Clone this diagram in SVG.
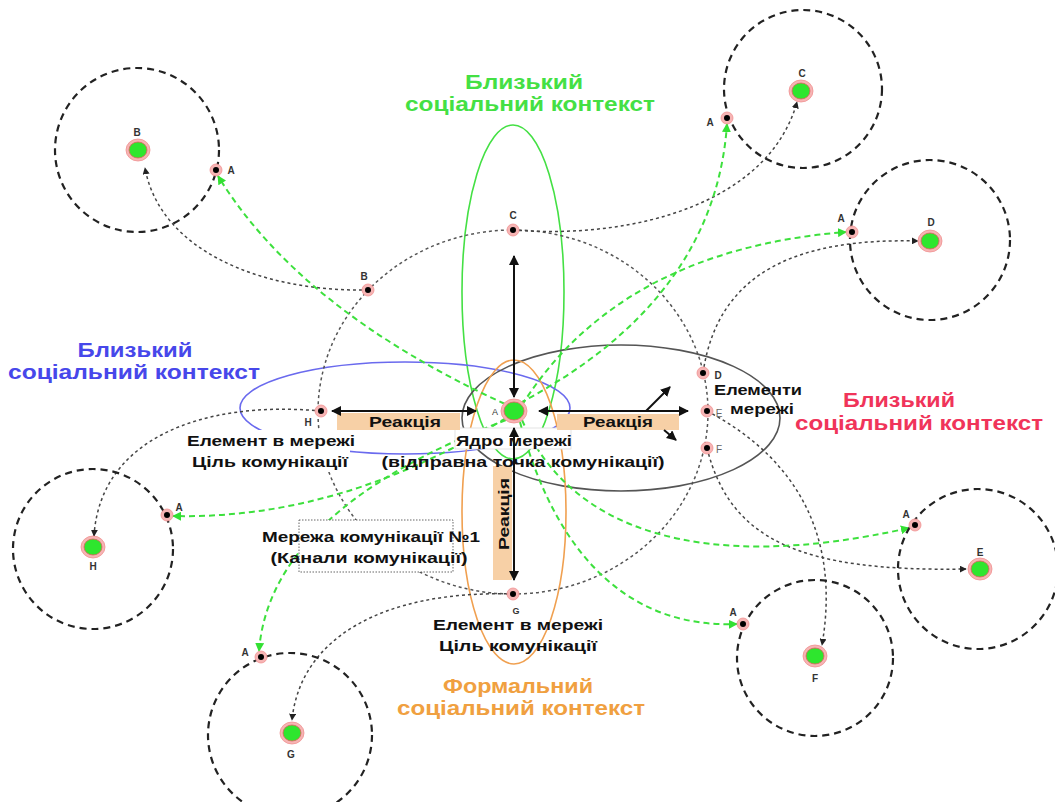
<svg xmlns="http://www.w3.org/2000/svg" width="1055" height="802" viewBox="0 0 1055 802">
<defs>
<marker id="ab" viewBox="0 0 10 10" refX="9" refY="5" markerWidth="10" markerHeight="10" markerUnits="userSpaceOnUse" orient="auto-start-reverse"><path d="M0,0 L10,5 L0,10 z" fill="#111"/></marker>
<marker id="ad" viewBox="0 0 10 10" refX="9" refY="5" markerWidth="7" markerHeight="7" markerUnits="userSpaceOnUse" orient="auto"><path d="M0,0 L10,5 L0,10 z" fill="#222"/></marker>
<marker id="ag" viewBox="0 0 10 10" refX="9" refY="5" markerWidth="9" markerHeight="9" markerUnits="userSpaceOnUse" orient="auto"><path d="M0,0 L10,5 L0,10 z" fill="#33e033"/></marker>
</defs>
<style>
.ctx{fill:none;stroke-width:1.6}
.net{fill:none;stroke:#555;stroke-width:1.5;stroke-dasharray:3 3}
.dot{fill:none;stroke:#444;stroke-width:1.5;stroke-dasharray:3 3;marker-end:url(#ad)}
.grn{fill:none;stroke:#3de03d;stroke-width:2;stroke-dasharray:6 4;marker-end:url(#ag)}
.outer{fill:none;stroke:#222;stroke-width:2.2;stroke-dasharray:7 5}
.arr{stroke:#111;stroke-width:2;fill:none}
.halo{fill:#f6b4b4;stroke:#f09090;stroke-width:0.8}
.pt{fill:#000}
.gn{fill:#2ee62e;stroke:#e06060;stroke-width:0.8}
.sm{font-family:"Liberation Sans",Arial,sans-serif;font-weight:bold;font-size:10px;fill:#333;text-anchor:middle}
.lb{font-family:"Liberation Sans",Arial,sans-serif;font-weight:bold;font-size:15.5px;fill:#111;text-anchor:middle}
.hd{font-family:"Liberation Sans",Arial,sans-serif;font-weight:bold;font-size:20px;text-anchor:middle}
.box{fill:#f7d0a6}
</style>
<rect width="1055" height="802" fill="#fff"/>

<g id="contexts">
<ellipse class="ctx" cx="513" cy="292" rx="51" ry="167" stroke="#44e044"/>
<ellipse class="ctx" cx="405" cy="408" rx="165" ry="46" stroke="#6a6aee"/>
<ellipse class="ctx" cx="621" cy="418" rx="159" ry="73" stroke="#555"/>
<ellipse class="ctx" cx="514" cy="512" rx="52" ry="152" stroke="#f0a050"/>
</g>

<g id="connectors">
<ellipse class="net" cx="513" cy="412" rx="195" ry="182"/>
<path class="dot" d="M368,290 C260,292 160,250 145,168"/>
<path class="dot" d="M513,230 C640,240 770,200 797,102"/>
<path class="dot" d="M703,373 C718,270 800,238 918,241"/>
<path class="dot" d="M707,411 C800,460 840,540 822,645"/>
<path class="dot" d="M707,448 C730,540 800,572 966,569"/>
<path class="dot" d="M321,411 C200,400 100,440 94,536"/>
<path class="dot" d="M513,594 C380,590 300,640 292,720"/>
<path class="grn" d="M505,404 Q300,310 218,176"/>
<path class="grn" d="M520,403 Q715,300 727,124"/>
<path class="grn" d="M522,405 Q620,250 846,232"/>
<path class="grn" d="M506,418 Q340,520 173,516"/>
<path class="grn" d="M506,420 Q270,510 259,651"/>
<path class="grn" d="M522,420 C570,530 700,575 909,528"/>
<path class="grn" d="M520,422 C560,570 640,628 737,624"/>
</g>

<g id="outer-circles">
<circle class="outer" cx="137" cy="150" r="82"/>
<circle class="outer" cx="803" cy="89" r="79"/>
<circle class="outer" cx="930" cy="240" r="80"/>
<circle class="outer" cx="93" cy="549" r="80"/>
<circle class="outer" cx="978" cy="569" r="80"/>
<circle class="outer" cx="815" cy="658" r="78"/>
<circle class="outer" cx="290" cy="735" r="82"/>
</g>

<g id="label-bg">
<rect x="455" y="428" width="116" height="21" fill="#fff" stroke="#ddd" stroke-width="0.8"/>
<rect x="190" y="430" width="160" height="42" fill="#fff"/>
<rect x="299" y="520" width="154" height="52" fill="#fff" stroke="#666" stroke-width="1" stroke-dasharray="1.5 1.5"/>
</g>

<g id="reaction-boxes">
<rect class="box" x="337" y="413" width="123" height="17"/>
<rect class="box" x="557" y="414" width="122" height="16"/>
<rect class="box" x="493" y="466" width="19" height="114"/>
<text class="lb" x="405" y="427" textLength="72" lengthAdjust="spacingAndGlyphs">Реакція</text>
<text class="lb" x="618" y="427" textLength="70" lengthAdjust="spacingAndGlyphs">Реакція</text>
<text class="lb" transform="translate(509,514) rotate(-90)" x="0" y="0" textLength="72" lengthAdjust="spacingAndGlyphs">Реакція</text>
</g>

<g id="arrows">
<line class="arr" x1="514" y1="256" x2="514" y2="397" marker-start="url(#ab)" marker-end="url(#ab)"/>
<line class="arr" x1="332" y1="411" x2="476" y2="411" marker-start="url(#ab)" marker-end="url(#ab)"/>
<line class="arr" x1="539" y1="411" x2="688" y2="411" marker-start="url(#ab)" marker-end="url(#ab)"/>
<line class="arr" x1="514" y1="428" x2="514" y2="580" marker-start="url(#ab)" marker-end="url(#ab)"/>
<line class="arr" x1="646" y1="411" x2="670" y2="387" marker-end="url(#ab)"/>
<line class="arr" x1="664" y1="430" x2="676" y2="440" marker-end="url(#ab)"/>
</g>

<g id="node-core">
<ellipse class="halo" cx="514" cy="411" rx="13" ry="12"/>
<ellipse class="gn" cx="514" cy="411" rx="10" ry="9"/>
<text class="sm" x="495" y="415" style="font-size:9px;font-weight:normal">A</text>
</g>

<g id="node-B"><ellipse class="halo" cx="138" cy="150" rx="12" ry="11"/><ellipse class="gn" cx="138" cy="150" rx="9" ry="8"/><text class="sm" x="137" y="136">B</text></g>
<g id="node-C"><ellipse class="halo" cx="801" cy="91" rx="12" ry="11"/><ellipse class="gn" cx="801" cy="91" rx="9" ry="8"/><text class="sm" x="802" y="77">C</text></g>
<g id="node-D"><ellipse class="halo" cx="930" cy="241" rx="12" ry="11"/><ellipse class="gn" cx="930" cy="241" rx="9" ry="8"/><text class="sm" x="931" y="226">D</text></g>
<g id="node-E"><ellipse class="halo" cx="980" cy="569" rx="12" ry="11"/><ellipse class="gn" cx="980" cy="569" rx="9" ry="8"/><text class="sm" x="980" y="556">E</text></g>
<g id="node-F"><ellipse class="halo" cx="815" cy="656" rx="12" ry="11"/><ellipse class="gn" cx="815" cy="656" rx="9" ry="8"/><text class="sm" x="815" y="682">F</text></g>
<g id="node-G"><ellipse class="halo" cx="292" cy="733" rx="12" ry="11"/><ellipse class="gn" cx="292" cy="733" rx="9" ry="8"/><text class="sm" x="291" y="758">G</text></g>
<g id="node-H"><ellipse class="halo" cx="93" cy="547" rx="12" ry="11"/><ellipse class="gn" cx="93" cy="547" rx="9" ry="8"/><text class="sm" x="93" y="570">H</text></g>

<g id="outer-points">
<circle class="halo" cx="216" cy="170" r="6"/><circle class="pt" cx="216" cy="170" r="3"/><text class="sm" x="231" y="174">A</text>
<circle class="halo" cx="727" cy="118" r="6"/><circle class="pt" cx="727" cy="118" r="3"/><text class="sm" x="710" y="126">A</text>
<circle class="halo" cx="852" cy="232" r="6"/><circle class="pt" cx="852" cy="232" r="3"/><text class="sm" x="841" y="222">A</text>
<circle class="halo" cx="167" cy="515" r="6"/><circle class="pt" cx="167" cy="515" r="3"/><text class="sm" x="179" y="511">A</text>
<circle class="halo" cx="915" cy="525" r="6"/><circle class="pt" cx="915" cy="525" r="3"/><text class="sm" x="906" y="518">A</text>
<circle class="halo" cx="743" cy="624" r="6"/><circle class="pt" cx="743" cy="624" r="3"/><text class="sm" x="733" y="616">A</text>
<circle class="halo" cx="261" cy="657" r="6"/><circle class="pt" cx="261" cy="657" r="3"/><text class="sm" x="245" y="656">A</text>
</g>

<g id="network-points">
<circle class="halo" cx="513" cy="230" r="6"/><circle class="pt" cx="513" cy="230" r="3"/><text class="sm" x="513" y="219">C</text>
<circle class="halo" cx="368" cy="290" r="6"/><circle class="pt" cx="368" cy="290" r="3"/><text class="sm" x="364" y="280">B</text>
<circle class="halo" cx="321" cy="411" r="6"/><circle class="pt" cx="321" cy="411" r="3"/><text class="sm" x="308" y="426">H</text>
<circle class="halo" cx="513" cy="594" r="6"/><circle class="pt" cx="513" cy="594" r="3"/><text class="sm" x="516" y="614" style="font-size:9px">G</text>
<circle class="halo" cx="703" cy="373" r="6"/><circle class="pt" cx="703" cy="373" r="3"/><text class="sm" x="718" y="379">D</text>
<circle class="halo" cx="707" cy="411" r="6"/><circle class="pt" cx="707" cy="411" r="3"/><text class="sm" x="719" y="417" style="font-weight:normal;fill:#666">E</text>
<circle class="halo" cx="707" cy="448" r="6"/><circle class="pt" cx="707" cy="448" r="3"/><text class="sm" x="719" y="453" style="font-weight:normal;fill:#666">F</text>
</g>

<g id="labels">
<text class="hd" fill="#44e044" x="524" y="89" textLength="118" lengthAdjust="spacingAndGlyphs">Близький</text>
<text class="hd" fill="#44e044" x="530" y="111" textLength="250" lengthAdjust="spacingAndGlyphs">соціальний контекст</text>
<text class="hd" fill="#4747ea" x="135" y="357" textLength="115" lengthAdjust="spacingAndGlyphs">Близький</text>
<text class="hd" fill="#4747ea" x="134" y="379" textLength="252" lengthAdjust="spacingAndGlyphs">соціальний контекст</text>
<text class="hd" fill="#f0345a" x="899" y="407" textLength="112" lengthAdjust="spacingAndGlyphs">Близький</text>
<text class="hd" fill="#f0345a" x="919" y="430" textLength="248" lengthAdjust="spacingAndGlyphs">соціальний контекст</text>
<text class="hd" fill="#f0a040" x="518" y="693" textLength="150" lengthAdjust="spacingAndGlyphs">Формальний</text>
<text class="hd" fill="#f0a040" x="521" y="715" textLength="248" lengthAdjust="spacingAndGlyphs">соціальний контекст</text>

<text class="lb" x="271" y="446" textLength="168" lengthAdjust="spacingAndGlyphs">Елемент в мережі</text>
<text class="lb" x="270" y="467" textLength="156" lengthAdjust="spacingAndGlyphs">Ціль комунікації</text>
<text class="lb" x="514" y="446" textLength="116" lengthAdjust="spacingAndGlyphs">Ядро мережі</text>
<text class="lb" x="523" y="467" textLength="283" lengthAdjust="spacingAndGlyphs">(відправна точка комунікації)</text>
<text class="lb" x="758" y="395" textLength="88" lengthAdjust="spacingAndGlyphs">Елементи</text>
<text class="lb" x="762" y="414" textLength="64" lengthAdjust="spacingAndGlyphs">мережі</text>
<text class="lb" x="371" y="542" textLength="218" lengthAdjust="spacingAndGlyphs">Мережа комунікації №1</text>
<text class="lb" x="369" y="563" textLength="197" lengthAdjust="spacingAndGlyphs">(Канали комунікації)</text>
<text class="lb" x="518" y="630" textLength="170" lengthAdjust="spacingAndGlyphs">Елемент в мережі</text>
<text class="lb" x="518" y="651" textLength="158" lengthAdjust="spacingAndGlyphs">Ціль комунікації</text>
</g>
</svg>
